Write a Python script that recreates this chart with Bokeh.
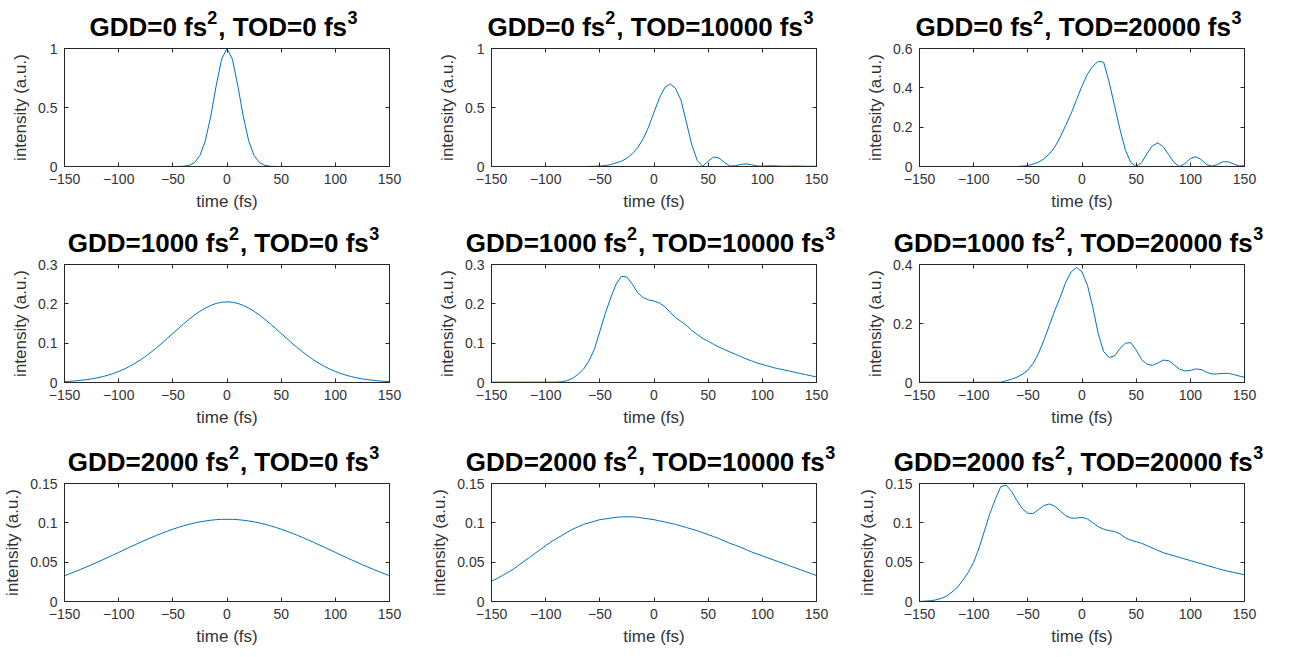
from bokeh.plotting import figure
from bokeh.layouts import column, row
from bokeh.models import Range1d, LinearAxis, FixedTicker, NumeralTickFormatter, Label
from bokeh.embed import file_html
from bokeh.resources import INLINE

# ---- data ----
time_fs = [-150, -145, -140, -135, -130, -125, -120, -115, -110, -105,
           -100, -95, -90, -85, -80, -75, -70, -65, -60, -55,
           -50, -45, -40, -35, -30, -25, -20, -15, -10, -5,
           0, 5, 10, 15, 20, 25, 30, 35, 40, 45,
           50, 55, 60, 65, 70, 75, 80, 85, 90, 95,
           100, 105, 110, 115, 120, 125, 130, 135, 140, 145, 150]

x_ticks = [-150, -100, -50, 0, 50, 100, 150]

gdd_values = ["0", "1000", "2000"]      # fs^2, one per row
tod_values = ["0", "10000", "20000"]    # fs^3, one per column

# GDD=0, TOD=0
I_g0_t0 = [0, 0, 0, 0, 0, 0, 0, 0, 0, 0,
           0, 0, 0, 0, 0, 0, 0, 0, 0, 0,
           0.0001, 0.0005, 0.0023, 0.0095, 0.0326, 0.0928, 0.2185, 0.425, 0.6837, 0.9093,
           1.0, 0.9093, 0.6837, 0.425, 0.2185, 0.0928, 0.0326, 0.0095, 0.0023, 0.0005,
           0.0001, 0, 0, 0, 0, 0, 0, 0, 0, 0,
           0, 0, 0, 0, 0, 0, 0, 0, 0, 0, 0]
# GDD=0, TOD=10000
I_g0_t1 = [0, 0, 0, 0, 0, 0, 0, 0, 0, 0,
           0, 0, 0, 0, 0, 0, 0, 0, 0.001, 0.002,
           0.004, 0.008, 0.016, 0.03, 0.045, 0.07, 0.11, 0.16, 0.235, 0.335,
           0.46, 0.58, 0.67, 0.70, 0.66, 0.56, 0.37, 0.18, 0.05, 0.003,
           0.045, 0.08, 0.072, 0.035, 0.005, 0.006, 0.018, 0.022, 0.015, 0.005,
           0.003, 0.006, 0.006, 0.004, 0.002, 0.003, 0.004, 0.003, 0.002, 0.002, 0.002]
# GDD=0, TOD=20000
I_g0_t2 = [0, 0, 0, 0, 0, 0, 0, 0, 0, 0,
           0, 0, 0, 0, 0, 0, 0, 0, 0, 0.002,
           0.005, 0.012, 0.022, 0.04, 0.065, 0.10, 0.15, 0.21, 0.27, 0.34,
           0.41, 0.47, 0.51, 0.535, 0.53, 0.43, 0.31, 0.19, 0.085, 0.02,
           0.0, 0.02, 0.065, 0.105, 0.12, 0.10, 0.06, 0.02, 0.0, 0.015,
           0.04, 0.05, 0.035, 0.01, 0.002, 0.01, 0.024, 0.024, 0.013, 0.003, 0.004]
# GDD=1000, TOD=0
I_g1_t0 = [0.0023, 0.0031, 0.0041, 0.0055, 0.0071, 0.0091, 0.0117, 0.0148, 0.0185, 0.0229,
           0.028, 0.034, 0.0409, 0.0486, 0.0573, 0.0669, 0.0773, 0.0884, 0.1001, 0.1123,
           0.1246, 0.137, 0.1491, 0.1607, 0.1713, 0.181, 0.1893, 0.196, 0.201, 0.204,
           0.205, 0.204, 0.201, 0.196, 0.1893, 0.181, 0.1713, 0.1607, 0.1491, 0.137,
           0.1246, 0.1123, 0.1001, 0.0884, 0.0773, 0.0669, 0.0573, 0.0486, 0.0409, 0.034,
           0.028, 0.0229, 0.0185, 0.0148, 0.0117, 0.0091, 0.0071, 0.0055, 0.0041, 0.0031, 0.0023]
# GDD=1000, TOD=10000
I_g1_t1 = [0.001, 0.001, 0.001, 0.001, 0.001, 0.001, 0.001, 0.001, 0.001, 0.001,
           0.001, 0.001, 0.001, 0.002, 0.005, 0.011, 0.021, 0.034, 0.055, 0.085,
           0.13, 0.175, 0.215, 0.25, 0.27, 0.268, 0.25, 0.228, 0.216, 0.21,
           0.207, 0.202, 0.193, 0.178, 0.165, 0.155, 0.145, 0.132, 0.122, 0.112,
           0.105, 0.097, 0.09, 0.084, 0.078, 0.072, 0.066, 0.06, 0.055, 0.05,
           0.046, 0.042, 0.038, 0.035, 0.032, 0.029, 0.026, 0.023, 0.02, 0.017, 0.014]
# GDD=1000, TOD=20000
I_g1_t2 = [0.001, 0.001, 0.001, 0.001, 0.001, 0.001, 0.001, 0.001, 0.001, 0.001,
           0.001, 0.001, 0.001, 0.001, 0.001, 0.001, 0.006, 0.011, 0.018, 0.028,
           0.042, 0.065, 0.1, 0.145, 0.195, 0.245, 0.29, 0.34, 0.375, 0.39,
           0.375, 0.33, 0.255, 0.165, 0.105, 0.085, 0.09, 0.115, 0.133, 0.135,
           0.11, 0.078, 0.062, 0.058, 0.066, 0.076, 0.074, 0.06, 0.045, 0.039,
           0.041, 0.046, 0.044, 0.035, 0.029, 0.029, 0.031, 0.031, 0.027, 0.022, 0.018]
# GDD=2000, TOD=0
I_g2_t0 = [0.0328, 0.0354, 0.0381, 0.0409, 0.0438, 0.0467, 0.0498, 0.0529, 0.056, 0.0592,
           0.0624, 0.0657, 0.0689, 0.072, 0.0752, 0.0782, 0.0812, 0.0841, 0.0868, 0.0894,
           0.0919, 0.0942, 0.0962, 0.0981, 0.0998, 0.1012, 0.1024, 0.1033, 0.104, 0.1044,
           0.1045, 0.1044, 0.104, 0.1033, 0.1024, 0.1012, 0.0998, 0.0981, 0.0962, 0.0942,
           0.0919, 0.0894, 0.0868, 0.0841, 0.0812, 0.0782, 0.0752, 0.072, 0.0689, 0.0657,
           0.0624, 0.0592, 0.056, 0.0529, 0.0498, 0.0467, 0.0438, 0.0409, 0.0381, 0.0354, 0.0328]
# GDD=2000, TOD=10000
I_g2_t1 = [0.026, 0.029, 0.033, 0.037, 0.041, 0.046, 0.051, 0.056, 0.061, 0.066,
           0.071, 0.076, 0.08, 0.084, 0.088, 0.092, 0.095, 0.098, 0.1, 0.102,
           0.104, 0.105, 0.106, 0.107, 0.1075, 0.1077, 0.1077, 0.107, 0.106, 0.105,
           0.104, 0.1025, 0.101, 0.0995, 0.098, 0.096, 0.094, 0.092, 0.09, 0.0875,
           0.085, 0.0825, 0.08, 0.077, 0.074, 0.0715, 0.069, 0.066, 0.063, 0.0605,
           0.058, 0.0555, 0.053, 0.0505, 0.048, 0.0455, 0.043, 0.0405, 0.038, 0.0355, 0.033]
# GDD=2000, TOD=20000
I_g2_t2 = [0.0, 0.0005, 0.001, 0.002, 0.004, 0.007, 0.012, 0.018, 0.027, 0.037,
           0.05, 0.068, 0.09, 0.112, 0.13, 0.146, 0.148, 0.14, 0.128, 0.118,
           0.112, 0.112, 0.117, 0.122, 0.124, 0.121, 0.115, 0.109, 0.106, 0.106,
           0.107, 0.105, 0.1, 0.095, 0.092, 0.09, 0.089, 0.086, 0.081, 0.078,
           0.076, 0.074, 0.071, 0.068, 0.065, 0.062, 0.06, 0.058, 0.056, 0.054,
           0.052, 0.05, 0.048, 0.046, 0.044, 0.042, 0.04, 0.0385, 0.037, 0.0355, 0.034]

series = [[I_g0_t0, I_g0_t1, I_g0_t2], [I_g1_t0, I_g1_t1, I_g1_t2], [I_g2_t0, I_g2_t1, I_g2_t2]]
y_max = [[1.0, 1.0, 0.6], [0.3, 0.3, 0.4], [0.15, 0.15, 0.15]]
y_ticks = [[[0, 0.5, 1], [0, 0.5, 1], [0, 0.2, 0.4, 0.6]],
           [[0, 0.1, 0.2, 0.3], [0, 0.1, 0.2, 0.3], [0, 0.2, 0.4]],
           [[0, 0.05, 0.1, 0.15], [0, 0.05, 0.1, 0.15], [0, 0.05, 0.1, 0.15]]]

AX = "#262626"
LINE = "#0072BD"
FONT = "Liberation Sans"

col_w = [427, 428, 433]
row_h = [216, 219, 222]
title_gap = [14, 14, 14]     # px between title baseline and frame top
FRAME_W = 325
FRAME_H = 118
LEFT = 64
TOP = 48
TITLE_H = 40
MAIN_PX = 26
SUP_PX = 18
SUP_RISE = 9
BASE_FIX = 8                 # compensates the label box placement

# Arial / Liberation Sans Bold advance widths (per 1000 em)
ADV = {'G': 778, 'D': 722, '=': 584, ' ': 278, 'f': 333, 's': 556, ',': 278, 'T': 611, 'O': 778}


def text_w(s, px):
    return sum(ADV.get(ch, 556) for ch in s) * px / 1000.0


def style_axis(ax, ticks, fmt=None, show_labels=True):
    ax.ticker = FixedTicker(ticks=ticks)
    if fmt is not None:
        ax.formatter = fmt
    ax.axis_line_color = AX
    ax.axis_line_width = 1
    ax.major_tick_line_color = AX
    ax.major_tick_in = 4
    ax.major_tick_out = 0
    ax.minor_tick_line_color = None
    ax.major_label_text_font = FONT
    if show_labels:
        ax.major_label_text_color = "#333333"
        ax.major_label_text_font_size = "14px"
        ax.major_label_standoff = 7
    else:
        ax.major_label_text_color = None
        ax.major_label_text_font_size = "0px"
        ax.major_label_standoff = 0


def make_title_row(r):
    total_w = sum(col_w)
    t = figure(title=None, width=total_w, height=TITLE_H,
               x_range=Range1d(0, total_w), y_range=Range1d(0, TITLE_H),
               output_backend="svg", toolbar_location=None,
               x_axis_location=None, y_axis_location=None, min_border=0,
               min_border_left=0, min_border_right=0, min_border_top=0, min_border_bottom=0)
    t.grid.visible = False
    t.outline_line_color = None
    t.background_fill_color = "white"
    t.border_fill_color = "white"
    base = TITLE_H - (TOP - title_gap[r]) + BASE_FIX
    col_x0 = 0
    for c in range(3):
        segs = [("GDD=%s fs" % gdd_values[r], MAIN_PX, 0, 0),
                ("2", SUP_PX, SUP_RISE, 1),
                (", TOD=%s fs" % tod_values[c], MAIN_PX, 0, 0),
                ("3", SUP_PX, SUP_RISE, 1)]
        total = sum(text_w(s, px) + g for s, px, _, g in segs)
        x = col_x0 + LEFT + FRAME_W / 2.0 - total / 2.0 - 3
        for s, px, rise, g in segs:
            t.add_layout(Label(x=x, y=base + rise, text=s, text_font=FONT, text_font_style="bold",
                               text_font_size="%dpx" % px, text_color="black",
                               text_align="left", text_baseline="alphabetic"))
            x += text_w(s, px) + g
        col_x0 += col_w[c]
    return t


def make_panel(r, c):
    w, h = col_w[c], row_h[r] - TITLE_H
    top = TOP - TITLE_H
    p = figure(title=None, width=w, height=h,
               x_range=Range1d(-150, 150), y_range=Range1d(0, y_max[r][c]),
               output_backend="svg", toolbar_location=None,
               min_border_left=LEFT, min_border_right=w - LEFT - FRAME_W,
               min_border_top=top, min_border_bottom=h - top - FRAME_H)
    p.line(time_fs, series[r][c], line_color=LINE, line_width=1)
    p.grid.visible = False
    p.outline_line_color = AX
    p.background_fill_color = "white"
    p.border_fill_color = "white"

    fmt = NumeralTickFormatter(format="0.[00]")
    style_axis(p.xaxis[0], x_ticks)
    style_axis(p.yaxis[0], y_ticks[r][c], fmt)
    p.xaxis[0].axis_label = "time (fs)"
    p.yaxis[0].axis_label = "intensity (a.u.)"
    for ax in (p.xaxis[0], p.yaxis[0]):
        ax.axis_label_text_font = FONT
        ax.axis_label_text_font_style = "normal"
        ax.axis_label_text_font_size = "17px"
        ax.axis_label_text_color = "#333333"
        ax.axis_label_standoff = 5

    top_ax = LinearAxis()
    style_axis(top_ax, x_ticks, show_labels=False)
    p.add_layout(top_ax, "above")
    right_ax = LinearAxis()
    style_axis(right_ax, y_ticks[r][c], show_labels=False)
    p.add_layout(right_ax, "right")
    return p


items = []
for r in range(3):
    items.append(make_title_row(r))
    items.append(row([make_panel(r, c) for c in range(3)], spacing=0))
layout = column(items, spacing=0)

open("out.html", "w").write(file_html(layout, INLINE))
